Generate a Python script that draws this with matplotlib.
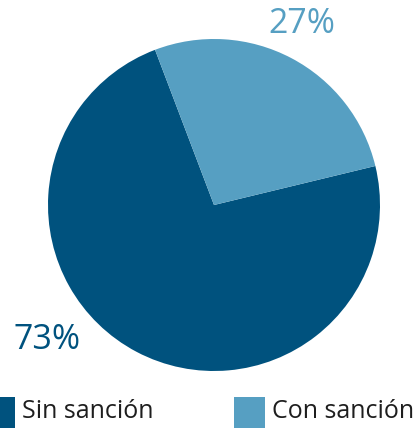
import matplotlib
matplotlib.use("Agg")
import matplotlib.pyplot as plt
from matplotlib.patches import Rectangle

categories = ["Sin sanción", "Con sanción"]
shares = [73, 27]
colors = ["#00527e", "#569fc2"]

W, H = 417, 429
plt.rcParams['font.family'] = ['Open Sans', 'DejaVu Sans']

fig = plt.figure(figsize=(W / 100, H / 100), dpi=100)

# pie axes placed in pixel units: centre (214, 205), radius 166
cx, cy, r = 214, 205, 166
ax = fig.add_axes([(cx - r) / W, (H - cy - r) / H, 2 * r / W, 2 * r / H])
wedges, _ = ax.pie(shares, colors=colors, startangle=110.8, counterclock=True,
                   radius=1, wedgeprops=dict(linewidth=0))
ax.set_xlim(-1, 1)
ax.set_ylim(-1, 1)
ax.set_aspect("equal")
ax.axis("off")

# percentage labels
fig.text(302 / W, 1 - 24 / H, f"{shares[1]}%", color=colors[1], fontsize=24.5,
         ha="center", va="center")
fig.text(47 / W, 1 - 340 / H, f"{shares[0]}%", color=colors[0], fontsize=24.5,
         ha="center", va="center")

# legend drawn by hand along the bottom edge
for x0, lab, col in zip([-16, 234], categories, colors):
    fig.add_artist(Rectangle((x0 / W, 1 - 428 / H), 31 / W, 31 / H,
                             transform=fig.transFigure, color=col, lw=0))
    fig.text((x0 + 38) / W, 1 - 411 / H, lab, color="#1e1e1e", fontsize=18,
             ha="left", va="center")

fig.savefig("out.png", dpi=100)
